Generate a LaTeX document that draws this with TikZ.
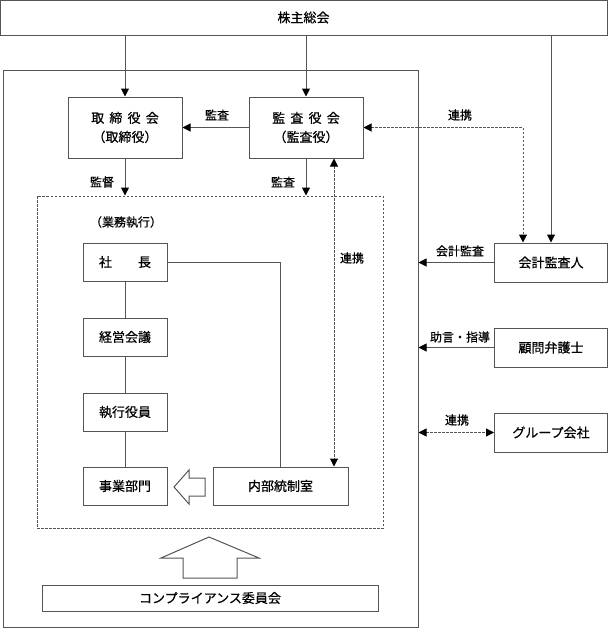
\documentclass[tikz,border=0pt]{standalone}
\usepackage{fontspec}
\setmainfont{Noto Sans CJK JP}[FakeBold=0.6]
\usetikzlibrary{arrows.meta,calc}
\definecolor{lc}{RGB}{85,85,85}
\tikzset{
  box/.style={draw=lc, line width=1pt, inner sep=0pt, align=center, font=\fontsize{13}{19}\selectfont},
  lbl/.style={inner sep=0pt, font=\fontsize{12}{14}\selectfont},
  conn/.style={draw=lc, line width=1pt},
  arr/.style={conn, -{Triangle[length=8pt,width=8pt,fill=black,color=black]}},
  darr/.style={conn, dash pattern=on 2.5pt off 1.5pt, {Triangle[length=8pt,width=8pt,fill=black,color=black]}-{Triangle[length=8pt,width=8pt,fill=black,color=black]}},
  blockarrow/.style={draw=lc, line width=1pt, fill=white}
}
\begin{document}
\begin{tikzpicture}[x=1pt,y=-1pt]
\useasboundingbox (0,0) rectangle (608,629);
% frames
\node[box, minimum width=607pt, minimum height=35pt] (top) at (303.5,17.5) {株主総会};
\node[box, minimum width=415pt, minimum height=557pt] (outer) at (210.5,348.5) {};
\node[box, dash pattern=on 2.5pt off 1.5pt, minimum width=346pt, minimum height=332pt] (inner) at (210,362) {};
% boxes
\node[box, minimum width=114pt, minimum height=61pt] (tori) at (125,127.5) {取\hspace{0.4em}締\hspace{0.4em}役\hspace{0.4em}会\\（取締役）};
\node[box, minimum width=114pt, minimum height=61pt] (kansa) at (306,127.5) {監\hspace{0.4em}査\hspace{0.4em}役\hspace{0.4em}会\\（監査役）};
\node[box, minimum width=84pt, minimum height=38pt] (shacho) at (125,262) {社\hspace{2em}長};
\node[box, minimum width=84pt, minimum height=38pt] (keiei) at (125,337) {経営会議};
\node[box, minimum width=84pt, minimum height=38pt] (shikko) at (125,412) {執行役員};
\node[box, minimum width=84pt, minimum height=38pt] (jigyo) at (125,486) {事業部門};
\node[box, minimum width=135pt, minimum height=38pt] (naibu) at (280.5,486) {内部統制室};
\node[box, minimum width=336pt, minimum height=26pt] (comp) at (210,598) {コンプライアンス委員会};
\node[box, minimum width=113pt, minimum height=39pt] (kaikei) at (551,262.5) {会計監査人};
\node[box, minimum width=113pt, minimum height=39pt] (komon) at (551,347.5) {顧問弁護士};
\node[box, minimum width=113pt, minimum height=39pt] (group) at (551,432.5) {グループ会社};
% labels
\node[lbl] (l1) at (217,115) {監査};
\node[lbl] (l2) at (460,115) {連携};
\node[lbl] (l3) at (102,182) {監督};
\node[lbl] (l4) at (283,182) {監査};
\node[lbl] (l5) at (126,222) {（業務執行）};
\node[lbl] (l6) at (352,258) {連携};
\node[lbl] (l7) at (460,251) {会計監査};
\node[lbl] (l8) at (460,337) {助言・指導};
\node[lbl] (l9) at (457,420) {連携};
% connectors
\draw[arr] (top.south -| tori.north) -- (tori.north);
\draw[arr] (top.south -| kansa.north) -- (kansa.north);
\draw[arr] (top.south -| kaikei.north) -- (kaikei.north);
\draw[arr] (kansa.west) -- (tori.east);
\draw[arr] (tori.south) -- (tori.south |- inner.north);
\draw[arr] (kansa.south) -- (kansa.south |- inner.north);
\coordinate (kk) at ([xshift=29pt]kaikei.north west);
\draw[darr] (kansa.east) -| (kk);
\coordinate (ks) at ([xshift=28pt]kansa.south);
\draw[darr] (ks) -- (ks |- naibu.north);
\draw[conn] (shacho) -- (keiei) (keiei) -- (shikko) (shikko) -- (jigyo);
\draw[conn] (shacho.east) -| (naibu.north);
\draw[arr] (kaikei.west) -- (kaikei.west -| outer.east);
\draw[arr] (komon.west) -- (komon.west -| outer.east);
\draw[darr] (group.west -| outer.east) -- (group.west);
% block arrows
\draw[blockarrow] (174,487) -- (189,470) -- (189,478) -- (205,478) -- (205,496) -- (189,496) -- (189,504) -- cycle;
\draw[blockarrow] (209,537) -- (259,558) -- (237,558) -- (237,578) -- (183,578) -- (183,558) -- (161,558) -- cycle;
\end{tikzpicture}
\end{document}
